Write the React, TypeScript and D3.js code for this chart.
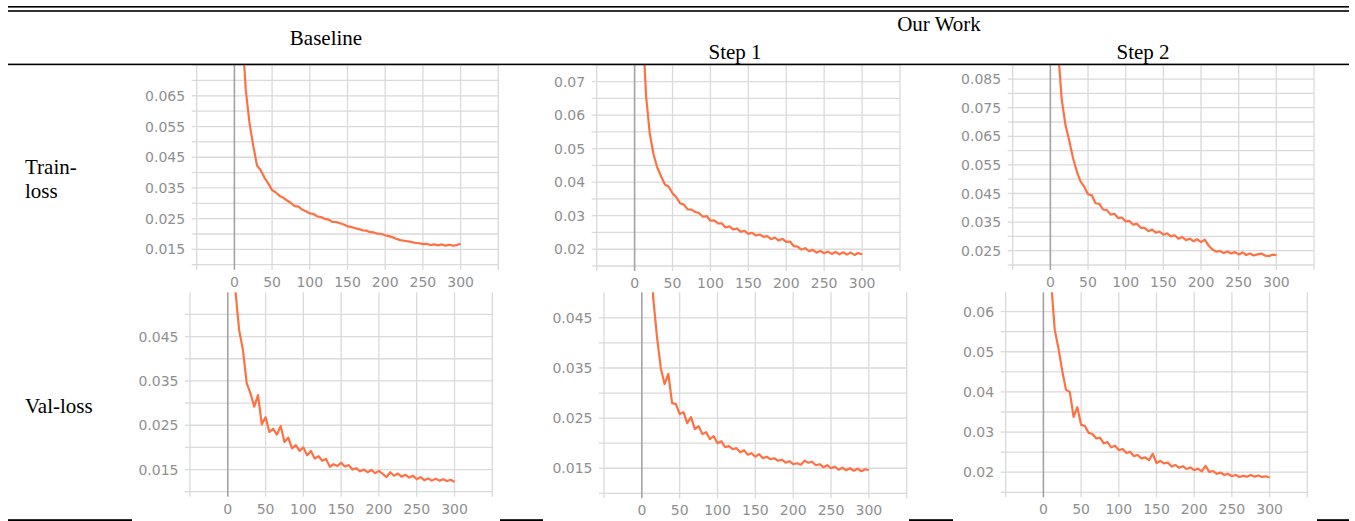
import React from 'react';
import * as d3 from 'd3';

// ---------- data ----------
const EPOCHS = [0,5,10,15,20,25,30,35,40,45,50,55,60,65,70,75,80,85,90,95,100,105,110,115,120,125,130,135,140,145,150,155,160,165,170,175,180,185,190,195,200,205,210,215,220,225,230,235,240,245,250,255,260,265,270,275,280,285,290,295,300];

const BASELINE_TRAIN = [0.20,0.13,0.088,0.067,0.0562,0.0487,0.0423,0.0407,0.0383,0.0364,0.0343,0.0335,0.0324,0.0318,0.0309,0.0301,0.0291,0.0289,0.0279,0.0274,0.0267,0.0265,0.0257,0.0255,0.0249,0.0247,0.0239,0.0239,0.0235,0.0231,0.0225,0.0223,0.0219,0.0216,0.0212,0.0211,0.0206,0.0205,0.0201,0.0200,0.0196,0.0193,0.0189,0.0184,0.0180,0.0178,0.0176,0.0174,0.0171,0.0170,0.0167,0.0168,0.0164,0.0166,0.0163,0.0166,0.0162,0.0165,0.0162,0.0164,0.0168];

const STEP1_TRAIN = [0.20,0.13,0.09,0.066,0.0545,0.0482,0.0443,0.0417,0.0393,0.0386,0.0367,0.0355,0.0337,0.0333,0.0319,0.0318,0.0311,0.0308,0.0297,0.0299,0.0285,0.0286,0.0277,0.0277,0.0265,0.0268,0.0259,0.0262,0.0252,0.0255,0.0246,0.0249,0.0241,0.0244,0.0237,0.0239,0.0230,0.0235,0.0226,0.0231,0.0222,0.0223,0.0209,0.0208,0.0199,0.0203,0.0194,0.0198,0.0190,0.0195,0.0188,0.0193,0.0186,0.0192,0.0185,0.0191,0.0184,0.0190,0.0183,0.0189,0.0184];

const STEP2_TRAIN = [0.25,0.16,0.096,0.078,0.069,0.0635,0.0575,0.0528,0.0492,0.0473,0.0447,0.0444,0.0416,0.0414,0.0394,0.0392,0.0376,0.0379,0.0364,0.0366,0.0352,0.0354,0.0341,0.0344,0.0330,0.0330,0.0318,0.0324,0.0313,0.0317,0.0306,0.0311,0.0300,0.0304,0.0292,0.0298,0.0287,0.0292,0.0283,0.0290,0.0280,0.0289,0.0268,0.0254,0.0247,0.0249,0.0242,0.0247,0.0240,0.0245,0.0237,0.0244,0.0235,0.0240,0.0233,0.0237,0.0240,0.0233,0.0231,0.0236,0.0235];

const BASELINE_VAL = [0.20,0.10,0.0555,0.0465,0.0420,0.0345,0.0322,0.0292,0.0318,0.0252,0.0268,0.0235,0.0242,0.0229,0.0248,0.0212,0.0222,0.0198,0.0205,0.0192,0.0200,0.0182,0.0192,0.0175,0.0180,0.0170,0.0174,0.0156,0.0162,0.0158,0.0165,0.0157,0.0160,0.0150,0.0153,0.0146,0.0150,0.0144,0.0149,0.0142,0.0147,0.0140,0.0133,0.0144,0.0136,0.0141,0.0134,0.0138,0.0132,0.0136,0.0128,0.0133,0.0126,0.0130,0.0125,0.0129,0.0125,0.0128,0.0124,0.0127,0.0122];

const STEP1_VAL = [0.20,0.11,0.068,0.049,0.0412,0.0350,0.0318,0.0338,0.0280,0.0278,0.0258,0.0262,0.0240,0.0252,0.0228,0.0234,0.0218,0.0222,0.0208,0.0214,0.0200,0.0204,0.0192,0.0194,0.0188,0.0190,0.0182,0.0186,0.0177,0.0180,0.0173,0.0178,0.0170,0.0173,0.0168,0.0170,0.0165,0.0167,0.0161,0.0164,0.0158,0.0160,0.0157,0.0165,0.0161,0.0163,0.0156,0.0158,0.0152,0.0156,0.0150,0.0153,0.0147,0.0151,0.0146,0.0150,0.0145,0.0149,0.0144,0.0148,0.0146];

const STEP2_VAL = [0.25,0.12,0.068,0.0555,0.0508,0.0452,0.0405,0.0400,0.0338,0.0362,0.0318,0.0315,0.0298,0.0295,0.0284,0.0286,0.0272,0.0275,0.0262,0.0266,0.0255,0.0258,0.0248,0.0251,0.0240,0.0243,0.0234,0.0237,0.0230,0.0246,0.0223,0.0228,0.0222,0.0224,0.0214,0.0218,0.0211,0.0215,0.0208,0.0212,0.0205,0.0209,0.0202,0.0216,0.0201,0.0203,0.0196,0.0199,0.0193,0.0196,0.0190,0.0193,0.0188,0.0191,0.0189,0.0193,0.0189,0.0192,0.0188,0.0190,0.0187];

const X_GRID = [-50,0,50,100,150,200,250,300,350];
const X_LABELS = ['0','50','100','150','200','250','300'];

const Y_LABELS_BASELINE_TRAIN = ['0.015','0.025','0.035','0.045','0.055','0.065'];
const Y_LABELS_STEP1_TRAIN = ['0.02','0.03','0.04','0.05','0.06','0.07'];
const Y_LABELS_STEP2_TRAIN = ['0.025','0.035','0.045','0.055','0.065','0.075','0.085'];
const Y_LABELS_BASELINE_VAL = ['0.015','0.025','0.035','0.045'];
const Y_LABELS_STEP1_VAL = ['0.015','0.025','0.035','0.045'];
const Y_LABELS_STEP2_VAL = ['0.02','0.03','0.04','0.05','0.06'];

const COL_TITLES = ['Baseline','Step 1','Step 2'];
const GROUP_TITLE = 'Our Work';
const ROW_TITLE_TRAIN = ['Train-','loss'];
const ROW_TITLE_VAL = 'Val-loss';

// ---------- layout ----------
type Panel = {
  values: number[];
  labels: string[];
  yDom: [number, number];
  gridStart: number;
  gridEnd: number;
  xPix: [number, number];
  yPix: [number, number];
};

const PANELS: Panel[] = [
  { values: BASELINE_TRAIN, labels: Y_LABELS_BASELINE_TRAIN, yDom: [0.010, 0.0752], gridStart: 0.010, gridEnd: 0.075, xPix: [196.7, 498.3], yPix: [264.7, 64.5] },
  { values: STEP1_TRAIN, labels: Y_LABELS_STEP1_TRAIN, yDom: [0.015, 0.0751], gridStart: 0.015, gridEnd: 0.075, xPix: [596.7, 900], yPix: [266, 64.5] },
  { values: STEP2_TRAIN, labels: Y_LABELS_STEP2_TRAIN, yDom: [0.020, 0.0901], gridStart: 0.020, gridEnd: 0.090, xPix: [1012.7, 1314], yPix: [265, 64.5] },
  { values: BASELINE_VAL, labels: Y_LABELS_BASELINE_VAL, yDom: [0.010, 0.0550], gridStart: 0.010, gridEnd: 0.050, xPix: [190, 492.3], yPix: [491.7, 292.3] },
  { values: STEP1_VAL, labels: Y_LABELS_STEP1_VAL, yDom: [0.010, 0.0501], gridStart: 0.010, gridEnd: 0.045, xPix: [604, 906.7], yPix: [493.3, 292.3] },
  { values: STEP2_VAL, labels: Y_LABELS_STEP2_VAL, yDom: [0.015, 0.0648], gridStart: 0.015, gridEnd: 0.060, xPix: [1005.7, 1307.3], yPix: [492.3, 292.3] },
];

const GRID_COLOR = '#dadada';
const TICK_TEXT = '#8f8f8f';
const LINE_COLOR = '#ff7043';
const SERIF = '"Liberation Serif", "Times New Roman", serif';
const SANS = '"DejaVu Sans", Verdana, sans-serif';

function PanelView({ p, idx }: { p: Panel; idx: number }) {
  const x = d3.scaleLinear().domain([-50, 350]).range(p.xPix);
  const y = d3.scaleLinear().domain(p.yDom).range(p.yPix);
  const grid = d3.range(Math.round(p.gridStart * 1000), Math.round(p.gridEnd * 1000) + 1, 5).map(v => v / 1000);
  const line = d3.line<number>().x((_, i) => x(EPOCHS[i])).y(d => y(d));
  const [xl, xr] = p.xPix;
  const [yb, yt] = p.yPix;
  const clipId = `clip-${idx}`;
  return (
    <g>
      <defs>
        <clipPath id={clipId}>
          <rect x={xl} y={yt} width={xr - xl} height={yb - yt} />
        </clipPath>
      </defs>
      {grid.map(v => (
        <g key={'h' + v}>
          <line x1={xl} x2={xr} y1={y(v)} y2={y(v)} stroke={GRID_COLOR} strokeWidth={1.3} />
          <line x1={xl - 5} x2={xl} y1={y(v)} y2={y(v)} stroke={GRID_COLOR} strokeWidth={1.3} />
        </g>
      ))}
      {X_GRID.map(v => (
        <line key={'v' + v} x1={x(v)} x2={x(v)} y1={yt} y2={yb + 5}
          stroke={v === 0 ? '#a3a3a3' : GRID_COLOR} strokeWidth={v === 0 ? 1.6 : 1.3} />
      ))}
      {p.labels.map(s => (
        <text key={'yl' + s} x={xl - 11.5} y={y(+s)} dy="0.36em" textAnchor="end"
          fontFamily={SANS} fontSize={14} fill={TICK_TEXT}>{s}</text>
      ))}
      {X_LABELS.map(s => (
        <text key={'xl' + s} x={x(+s)} y={yb + 17} dy="0.36em" textAnchor="middle"
          fontFamily={SANS} fontSize={14} fill={TICK_TEXT}>{s}</text>
      ))}
      <path d={line(p.values) || ''} fill="none" stroke={LINE_COLOR} strokeWidth={2.2}
        strokeLinejoin="round" clipPath={`url(#${clipId})`} />
    </g>
  );
}

export default function App() {
  const W = 1355, H = 521;
  const ruleL = 8, ruleR = 1349;
  const bottomSegs: [number, number][] = [[ruleL, 132], [500, 543], [909, 953], [1317, ruleR]];
  return (
    <svg width={W} height={H} style={{ position: 'absolute', left: 0, top: 0, background: '#fff' }}>
      <rect x={0} y={0} width={W} height={H} fill="#fff" />
      {PANELS.map((p, i) => <PanelView key={i} p={p} idx={i} />)}

      <text x={326} y={45} textAnchor="middle" fontFamily={SERIF} fontSize={21}>{COL_TITLES[0]}</text>
      <text x={939} y={31} textAnchor="middle" fontFamily={SERIF} fontSize={21}>{GROUP_TITLE}</text>
      <text x={735} y={59} textAnchor="middle" fontFamily={SERIF} fontSize={21}>{COL_TITLES[1]}</text>
      <text x={1143} y={59} textAnchor="middle" fontFamily={SERIF} fontSize={21}>{COL_TITLES[2]}</text>

      <text x={25} y={174} fontFamily={SERIF} fontSize={21}>{ROW_TITLE_TRAIN[0]}</text>
      <text x={25} y={198} fontFamily={SERIF} fontSize={21}>{ROW_TITLE_TRAIN[1]}</text>
      <text x={25} y={413} fontFamily={SERIF} fontSize={21}>{ROW_TITLE_VAL}</text>

      <rect x={ruleL} y={6} width={ruleR - ruleL} height={1.6} fill="#000" />
      <rect x={ruleL} y={10.2} width={ruleR - ruleL} height={1.6} fill="#000" />
      <rect x={ruleL} y={63.6} width={ruleR - ruleL} height={1.6} fill="#000" />
      {bottomSegs.map(([a, b], i) => (
        <rect key={i} x={a} y={519.2} width={b - a} height={1.8} fill="#000" />
      ))}
    </svg>
  );
}
